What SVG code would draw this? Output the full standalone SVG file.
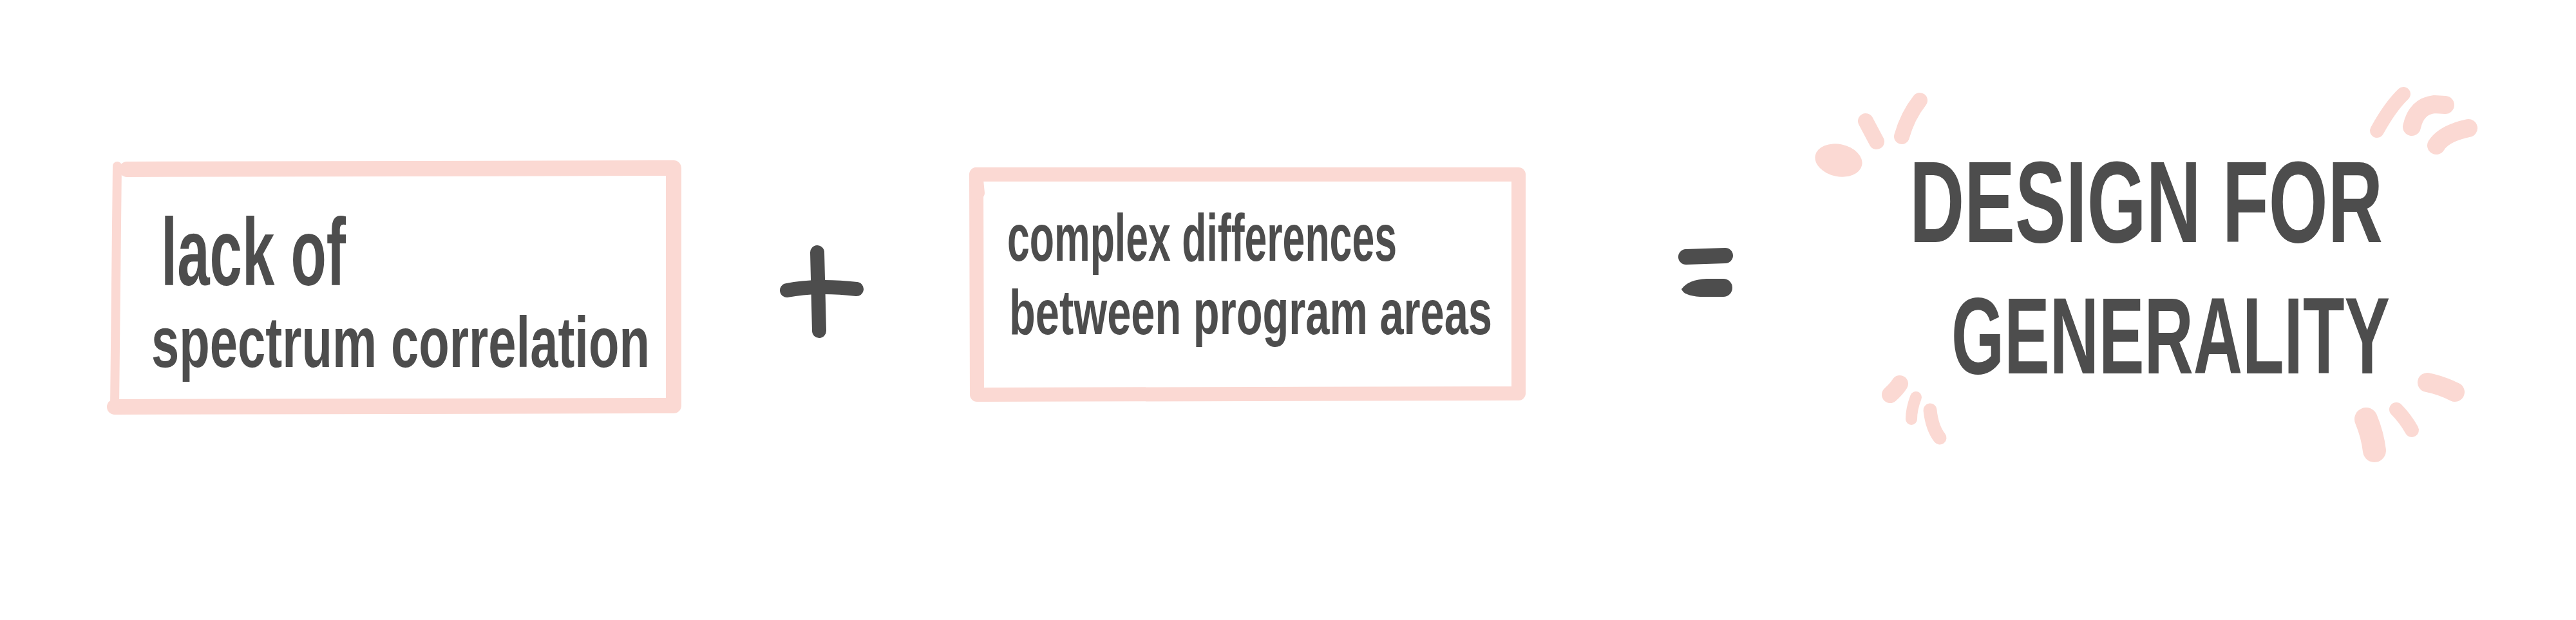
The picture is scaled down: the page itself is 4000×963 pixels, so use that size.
<svg xmlns="http://www.w3.org/2000/svg" width="4000" height="963" viewBox="0 0 4000 963">
<style>
.frame{fill:none;stroke:#fbd9d3;stroke-linecap:round;stroke-linejoin:round}
.deco{fill:none;stroke:#fbd9d3;stroke-linecap:round;stroke-linejoin:round}
.ink{fill:#4d4d4d}
.op{fill:none;stroke:#4d4d4d;stroke-linecap:round}
.hand{font-family:"Liberation Sans Narrow","Liberation Sans","DejaVu Sans Condensed",sans-serif;font-weight:bold;fill:#4d4d4d}
</style>
<rect width="4000" height="963" fill="#ffffff"/>

<g id="box-lack-of-correlation">
  <path class="frame" stroke-width="24" d="M197,263 L1046,261 L1046,630 L178,632"/>
  <path class="frame" stroke-width="14" d="M178,632 L182,258"/>
  <text class="hand" x="250" y="443" font-size="148" textLength="287" lengthAdjust="spacingAndGlyphs">lack of</text>
  <text class="hand" x="235" y="570" font-size="112" textLength="774" lengthAdjust="spacingAndGlyphs">spectrum correlation</text>
</g>

<g id="plus">
  <path class="op" stroke-width="22" d="M1269,392 L1272,514"/>
  <path class="op" stroke-width="22" d="M1222,451 Q1270,442 1330,449"/>
</g>

<g id="box-complex-differences">
  <path class="frame" stroke-width="22" d="M1516,271 L2358,271 L2358,611 L1517,613 Z"/>
  <path class="frame" stroke-width="20" d="M1516,270 L1519,300"/>
  <text class="hand" x="1564" y="405" font-size="104" textLength="605" lengthAdjust="spacingAndGlyphs">complex differences</text>
  <text class="hand" x="1567" y="519" font-size="98" textLength="750" lengthAdjust="spacingAndGlyphs">between program areas</text>
</g>

<g id="equals">
  <path class="op" stroke-width="24" d="M2618,399 L2679,397"/>
  <path class="ink" d="M2611,449 Q2622,434 2650,433 L2676,433 A14,14 0 0 1 2676,461 L2640,461 Q2614,459 2611,449 Z"/>
</g>

<g id="design-for-generality">
  <g id="sparkles">
    <ellipse cx="2855" cy="249" rx="37" ry="25" transform="rotate(12 2855 249)" fill="#fbd9d3"/>
    <path class="deco" stroke-width="24" d="M2897,188 L2914,220"/>
    <path class="deco" stroke-width="24" d="M2981,156 Q2962,180 2953,212"/>
    <path class="deco" stroke-width="22" d="M3732,146 Q3712,165 3691,203"/>
    <path class="deco" stroke-width="28" d="M3745,197 Q3752,165 3780,162 L3797,163"/>
    <path class="deco" stroke-width="28" d="M3783,226 Q3795,207 3833,199"/>
    <path class="deco" stroke-width="26" d="M2935,613 Q2945,604 2950,596"/>
    <path class="deco" stroke-width="18" d="M2975,617 Q2968,635 2968,651"/>
    <path class="deco" stroke-width="21" d="M2997,637 Q3000,665 3012,680"/>
    <path class="deco" stroke-width="30" d="M3769,594 Q3790,598 3812,609"/>
    <path class="deco" stroke-width="22" d="M3721,636 Q3735,650 3745,668"/>
    <path class="deco" stroke-width="36" d="M3674,651 Q3684,675 3687,700"/>
  </g>
  <text class="hand" x="2965" y="376" font-size="140" textLength="735" lengthAdjust="spacingAndGlyphs" transform="translate(0,376) scale(1,1.28) translate(0,-376)">DESIGN FOR</text>
  <text class="hand" x="3030" y="580" font-size="132" textLength="681" lengthAdjust="spacingAndGlyphs" transform="translate(0,580) scale(1,1.28) translate(0,-580)">GENERALITY</text>
</g>
</svg>
